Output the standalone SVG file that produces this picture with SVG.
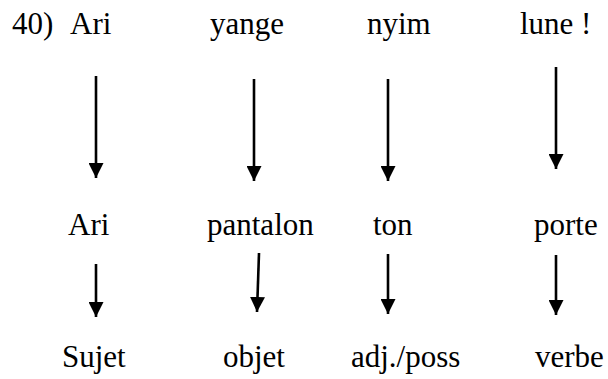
<svg xmlns="http://www.w3.org/2000/svg" width="608" height="379" viewBox="0 0 608 379">
<style>
text{font-family:'Liberation Serif','Times New Roman',Times,'DejaVu Serif',serif;font-size:31px;fill:#000}
.a{stroke:#000;stroke-width:2.6;fill:none;marker-end:url(#h)}
</style>
<defs>
<marker id="h" viewBox="0 0 10 10" refX="10" refY="5" markerUnits="userSpaceOnUse" markerWidth="15" markerHeight="15" orient="auto">
<path d="M0,0 L10,5 L0,10 Z" fill="#000"/>
</marker>
</defs>
<rect width="608" height="379" fill="#fff"/>
<g id="row1" font-family="Liberation Serif, Times New Roman, serif">
<g id="n40"><text x="12" y="34">40)</text></g>
<g id="ari1"><text x="70" y="34">Ari</text></g>
<g id="yange"><text x="210" y="34">yange</text></g>
<g id="nyim"><text x="367" y="34">nyim</text></g>
<g id="lune"><text x="520" y="34">lune !</text></g>
</g>
<g id="row2">
<g id="ari2"><text x="68" y="235">Ari</text></g>
<g id="pantalon"><text x="207" y="235">pantalon</text></g>
<g id="ton"><text x="373" y="235">ton</text></g>
<g id="porte"><text x="534" y="235">porte</text></g>
</g>
<g id="row3">
<g id="sujet"><text x="62" y="367">Sujet</text></g>
<g id="objet"><text x="223" y="367">objet</text></g>
<g id="adj"><text x="351" y="367">adj./poss</text></g>
<g id="verbe"><text x="535" y="367">verbe</text></g>
</g>
<g id="connectors">
<line class="a" x1="96" y1="76" x2="96" y2="178"/>
<line class="a" x1="254" y1="79" x2="254" y2="181"/>
<line class="a" x1="388" y1="79" x2="388" y2="181"/>
<line class="a" x1="556" y1="67" x2="556" y2="169"/>
<line class="a" x1="96" y1="264" x2="96" y2="317"/>
<line class="a" x1="259" y1="253" x2="257" y2="312"/>
<line class="a" x1="388" y1="254" x2="388" y2="314"/>
<line class="a" x1="556" y1="255" x2="556" y2="315"/>
</g>
</svg>
